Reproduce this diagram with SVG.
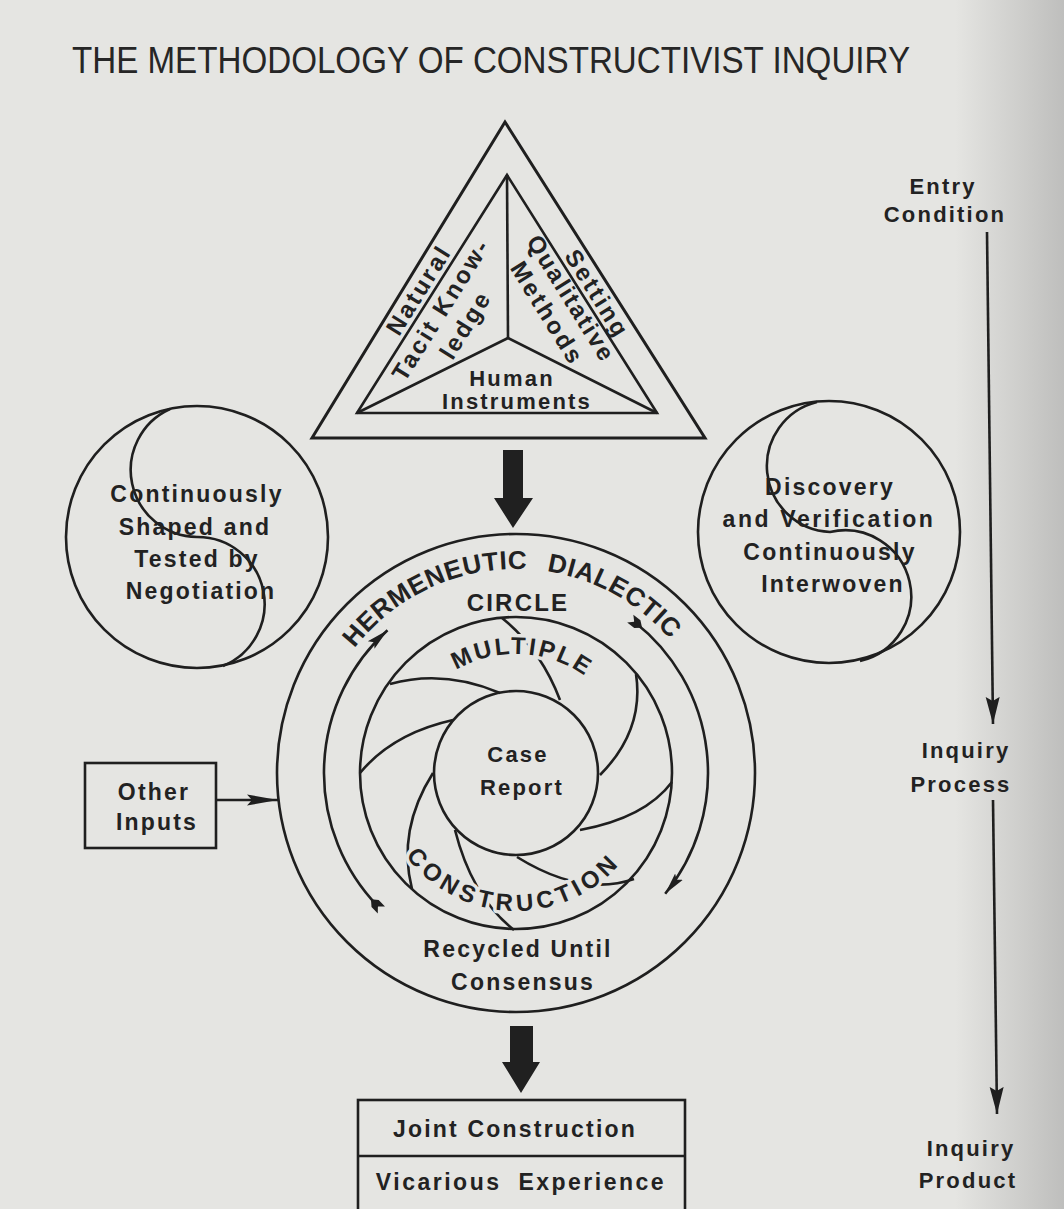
<svg xmlns="http://www.w3.org/2000/svg" width="1064" height="1209" viewBox="0 0 1064 1209">
<defs>
<style>
.bg{fill:#e5e5e2}
.ln{fill:none;stroke:#1f1f1f;stroke-width:2.6}
.thk{stroke-width:3}
.t{font-family:"Liberation Sans",Arial,Helvetica,sans-serif;font-weight:bold;fill:#222;font-size:23px;letter-spacing:2.2px;text-anchor:middle}
.tri{font-size:24px;letter-spacing:2.6px}
.ring{font-size:24px;text-anchor:start}
.title{font-family:"Liberation Sans",Arial,Helvetica,sans-serif;font-size:36px;fill:#262626}
.ko{stroke:#e5e5e2;stroke-width:7px;paint-order:stroke;stroke-linejoin:round}
.blk{fill:#202020}
</style>
<linearGradient id="edge" x1="0" x2="1" y1="0" y2="0">
<stop offset="0" stop-color="#8f8f8f" stop-opacity="0"/>
<stop offset="1" stop-color="#8f8f8f" stop-opacity="0.45"/>
</linearGradient>
<marker id="head" markerUnits="userSpaceOnUse" viewBox="0 -8 26 16" markerWidth="26" markerHeight="16" refX="22" refY="0" orient="auto">
<path d="M0,-5 L22,0 L0,5 L4,0 Z" fill="#1f1f1f"/>
</marker>
<marker id="tail" markerUnits="userSpaceOnUse" viewBox="-8 -8 24 16" markerWidth="24" markerHeight="16" refX="0" refY="0" orient="auto">
<path d="M-5,-5 L4,-5 L10,0 L4,5 L-5,5 L0,0 Z" fill="#1f1f1f"/>
</marker>
<marker id="head2" markerUnits="userSpaceOnUse" viewBox="0 -8 32 16" markerWidth="32" markerHeight="16" refX="31" refY="0" orient="auto">
<path d="M0,-5.5 L31,0 L0,5.5 L5,0 Z" fill="#1f1f1f"/>
</marker>
<marker id="head3" markerUnits="userSpaceOnUse" viewBox="0 -9 28 18" markerWidth="28" markerHeight="18" refX="27" refY="0" orient="auto">
<path d="M0,-7 L27,0 L0,7 L4,0 Z" fill="#1f1f1f"/>
</marker>
<path id="hdPath" d="M312 773 A204 204 0 0 1 720 773"/>
<path id="mPath" d="M397 773 A119 119 0 0 1 635 773"/>
<path id="cPath" d="M378 773 A138 138 0 0 0 654 773"/>
</defs>

<rect class="bg" x="0" y="0" width="1064" height="1209"/>
<rect x="955" y="0" width="109" height="1209" fill="url(#edge)"/>

<text id="title" class="title" x="72" y="73" textLength="838" lengthAdjust="spacingAndGlyphs">THE METHODOLOGY OF CONSTRUCTIVIST INQUIRY</text>

<g id="triangle">
<polygon class="ln thk" points="505,122 312,438 705,438"/>
<polygon class="ln" points="507,175 357,413 657,413"/>
<polyline class="ln" points="507,175 508,338"/>
<polyline class="ln" points="357,413 508,338 657,413"/>
<text class="t tri" transform="translate(419 290) rotate(-58)" x="0" y="8">Natural</text>
<text class="t tri" transform="translate(597 294) rotate(58)" x="0" y="8">Setting</text>
<g transform="translate(453 317) rotate(-58)">
<text class="t tri" x="0" y="-6">Tacit Know-</text>
<text class="t tri" x="0" y="23">ledge</text>
</g>
<g transform="translate(559 306) rotate(58)">
<text class="t tri" x="0" y="-6" style="letter-spacing:2px">Qualitative</text>
<text class="t tri" x="0" y="22">Methods</text>
</g>
<text class="t" x="512" y="386" style="font-size:22px">Human</text>
<text class="t" x="517" y="409" style="font-size:22px">Instruments</text>
</g>

<g id="negotiation">
<circle class="ln" cx="197" cy="537" r="131"/>
<path class="ln" d="M170 409 A67 67 0 0 0 197 537 A67 67 0 0 1 223 666"/>
<text class="t" x="197" y="502">Continuously</text>
<text class="t" x="195" y="535">Shaped and</text>
<text class="t" x="197" y="567">Tested by</text>
<text class="t" x="201" y="599">Negotiation</text>
</g>

<g id="discovery">
<circle class="ln" cx="829" cy="532" r="131"/>
<path class="ln" d="M817 402 A66 66 0 0 0 830 532 A66 66 0 0 1 860 661"/>
<text class="t" x="830" y="495">Discovery</text>
<text class="t" x="829" y="527" style="letter-spacing:2.6px">and Verification</text>
<text class="t" x="830" y="560">Continuously</text>
<text class="t" x="833" y="592">Interwoven</text>
</g>

<g id="hermeneutic-circle">
<circle class="ln" cx="516" cy="773" r="239"/>
<path class="ln" d="M377.9 906.4 A192 192 0 0 1 387.5 630.3" marker-start="url(#tail)" marker-end="url(#head)"/>
<path class="ln" d="M634.2 621.7 A192 192 0 0 1 665.2 893.8" marker-start="url(#tail)" marker-end="url(#head)"/>
<circle class="ln" cx="516" cy="773" r="156"/>
<g id="blades">
<path class="ln" d="M502 618 Q540.5 649 560 700"/>
<path class="ln" d="M636 674 Q644.5 730 600 775"/>
<path class="ln" d="M672 782 Q645 818 580 830"/>
<path class="ln" d="M634 879 Q581.5 897 517 857"/>
<path class="ln" d="M514 930 Q472 897 455 830"/>
<path class="ln" d="M412 889 Q397 830 433 773"/>
<path class="ln" d="M360 773 Q392.5 733.5 453 720"/>
<path class="ln" d="M390 684 Q444 669 500 693"/>
</g>
<circle class="ln" cx="516" cy="773" r="82"/>
<text class="t ring" style="font-size:26px;letter-spacing:0.6px;word-spacing:12px"><textPath href="#hdPath" startOffset="134">HERMENEUTIC DIALECTIC</textPath></text>
<text class="t" x="518" y="611" style="font-size:24px">CIRCLE</text>
<text class="t ring ko" style="letter-spacing:2.5px"><textPath href="#mPath" startOffset="124">MULTIPLE</textPath></text>
<text class="t ring ko" style="letter-spacing:4.5px"><textPath href="#cPath" startOffset="89">CONSTRUCTION</textPath></text>
<text class="t" x="518" y="762" style="font-size:22px">Case</text>
<text class="t" x="522" y="795" style="font-size:22px">Report</text>
<text class="t" x="518" y="957">Recycled Until</text>
<text class="t" x="523" y="990">Consensus</text>
</g>

<g id="other-inputs">
<rect class="ln" x="85" y="763" width="131" height="85"/>
<text class="t" x="154" y="800">Other</text>
<text class="t" x="157" y="830">Inputs</text>
</g>

<g id="product-box">
<rect class="ln" x="358" y="1100" width="327" height="140"/>
<line class="ln" x1="358" y1="1156" x2="685" y2="1156"/>
<text class="t" x="515" y="1137">Joint Construction</text>
<text class="t" x="521" y="1190" style="letter-spacing:2.5px;word-spacing:8px">Vicarious Experience</text>
</g>

<g id="stages">
<text class="t" x="943" y="194" style="font-size:22px">Entry</text>
<text class="t" x="945" y="222" style="font-size:22px">Condition</text>
<text class="t" x="966" y="758" style="font-size:22px">Inquiry</text>
<text class="t" x="961" y="792" style="font-size:22px">Process</text>
<text class="t" x="971" y="1156" style="font-size:22px">Inquiry</text>
<text class="t" x="968" y="1188" style="font-size:22px">Product</text>
</g>

<g id="connectors">
<polygon class="blk" points="503,450 523,450 523,498 533,498 513,528 494,498 503,498"/>
<polygon class="blk" points="510,1026 533,1026 533,1062 540,1062 521,1093 502,1062 510,1062"/>
<line class="ln" x1="216" y1="800" x2="278" y2="800" marker-end="url(#head2)"/>
<line class="ln" x1="987" y1="232" x2="993" y2="724" marker-end="url(#head3)"/>
<line class="ln" x1="993" y1="800" x2="997" y2="1114" marker-end="url(#head3)"/>
</g>
</svg>
